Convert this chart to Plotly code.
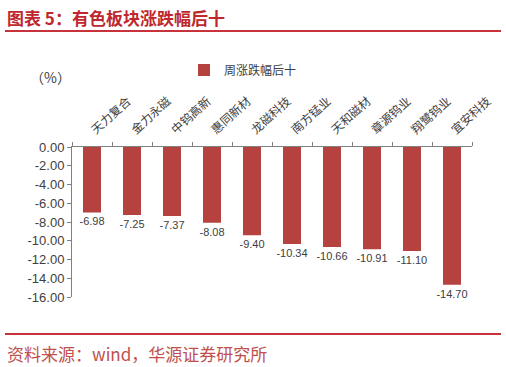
import plotly.graph_objects as go

categories = ["天力复合", "金力永磁", "中钨高新", "惠同新材", "龙磁科技",
              "南方锰业", "天和磁材", "章源钨业", "翔鹭钨业", "宜安科技"]
values = [-6.98, -7.25, -7.37, -8.08, -9.40, -10.34, -10.66, -10.91, -11.10, -14.70]
series_name = "周涨跌幅后十"
ytick_vals = [0, -2, -4, -6, -8, -10, -12, -14, -16]
ytick_text = [f"{v:.2f}" for v in ytick_vals]
value_text = [f"{v:.2f}" for v in values]

W, H = 506, 367
L, R, T, B = 72, 34, 147, 70
pw, ph = W - L - R, H - T - B

def px(x):
    return (x - L) / pw

def py(y):
    return (H - B - y) / ph

bar_color = "#B5423F"
red = "#C0272D"
cjk = "Noto Sans CJK SC"

fig = go.Figure()
fig.add_trace(go.Bar(
    x=categories, y=values, name=series_name,
    marker=dict(color=bar_color, line=dict(width=0)),
    text=value_text, textposition="outside", cliponaxis=False, constraintext="none",
    textfont=dict(family="Liberation Sans, Arial", size=11, color="#404040"),
    showlegend=True,
))

fig.update_layout(
    width=W, height=H,
    margin=dict(l=L, r=R, t=T, b=B, autoexpand=False),
    paper_bgcolor="white", plot_bgcolor="white",
    bargap=0.55,
    showlegend=True,
    legend=dict(orientation="h", x=px(184), y=py(70), xanchor="left", yanchor="middle",
                font=dict(family=cjk, size=12, color="#404040"),
                bgcolor="rgba(0,0,0,0)", itemwidth=30),
    xaxis=dict(side="top", showline=True, linecolor="#808080", linewidth=1,
               ticks="outside", tickson="boundaries", ticklen=4, tickcolor="#808080",
               tickangle=-42, showgrid=False, automargin=False, ticklabelstandoff=5,
               tickfont=dict(family=cjk, size=12, color="#404040")),
    yaxis=dict(range=[-16, 0], tickvals=ytick_vals, ticktext=ytick_text,
               showline=True, linecolor="#808080", linewidth=1,
               ticks="outside", ticklen=4, tickcolor="#808080",
               showgrid=False, zeroline=False, automargin=False,
               tickfont=dict(family="Liberation Sans, Arial", size=13, color="#404040")),
    font=dict(family=cjk),
)

annotations = [
    dict(text="<b>图表 5：有色板块涨跌幅后十</b>", x=px(5), y=py(17), xanchor="left", yanchor="middle",
         font=dict(family=cjk, size=17, color=red)),
    dict(text="资料来源：wind，华源证券研究所", x=px(5), y=py(353), xanchor="left", yanchor="middle",
         font=dict(family=cjk, size=17, color="#C0504D")),
    dict(text="（%）", x=px(50), y=py(77), xanchor="center", yanchor="middle",
         font=dict(family=cjk, size=14, color="#404040")),
]
for a in annotations:
    a.update(xref="paper", yref="paper", showarrow=False)
fig.update_layout(annotations=annotations)

fig.update_layout(shapes=[
    dict(type="line", xref="paper", yref="paper", x0=px(5), x1=px(501), y0=py(31), y1=py(31),
         line=dict(color="#C8323A", width=2)),
    dict(type="line", xref="paper", yref="paper", x0=px(5), x1=px(501), y0=py(334), y1=py(334),
         line=dict(color="#C8323A", width=2)),
])

fig.write_html("out.html")
